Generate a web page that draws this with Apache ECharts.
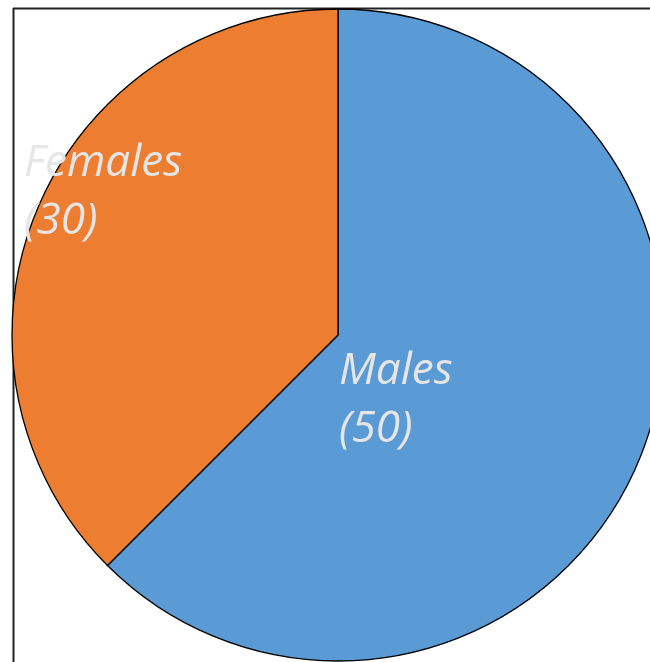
<!DOCTYPE html>
<html>
<head>
<meta charset="utf-8">
<script src="https://cdn.jsdelivr.net/npm/echarts@6/dist/echarts.min.js"></script>
<style>
  html, body { margin: 0; padding: 0; background: #ffffff; }
  #chart { width: 650px; height: 662px; }
</style>
</head>
<body>
<div id="chart"></div>
<script>
const categories = ['Males', 'Females'];
const values = [50, 30];
const colors = ['#5B9BD5', '#ED7D31'];

const labelPos = {
  0: { x: 339, y: 400 },
  1: { x: 24, y: 192 }
};

const chart = echarts.init(document.getElementById('chart'), null, { renderer: 'canvas' });
chart.setOption({
  animation: false,
  backgroundColor: '#ffffff',
  graphic: [
    { type: 'line', z: 0, shape: { x1: 13.5, y1: 8, x2: 13.5, y2: 662 }, style: { stroke: '#222222', lineWidth: 2 } },
    { type: 'line', z: 0, shape: { x1: 13, y1: 8.5, x2: 650, y2: 8.5 }, style: { stroke: '#222222', lineWidth: 2 } }
  ],
  series: [{
    type: 'pie',
    center: [338, 335],
    radius: [0, 326],
    startAngle: 90,
    clockwise: true,
    data: categories.map((c, i) => ({ name: c, value: values[i], itemStyle: { color: colors[i] } })),
    itemStyle: { borderColor: '#000000', borderWidth: 1.3 },
    label: {
      show: true,
      position: 'inside',
      formatter: p => p.name + '\n(' + p.value + ')',
      color: '#E7E6E6',
      fontFamily: 'Open Sans',
      fontStyle: 'italic',
      fontSize: 44,
      lineHeight: 58,
      align: 'left'
    },
    labelLine: { show: false },
    labelLayout: params => ({
      x: labelPos[params.dataIndex].x,
      y: labelPos[params.dataIndex].y,
      align: 'left',
      verticalAlign: 'middle'
    }),
    emphasis: { disabled: true }
  }]
});
</script>
</body>
</html>
